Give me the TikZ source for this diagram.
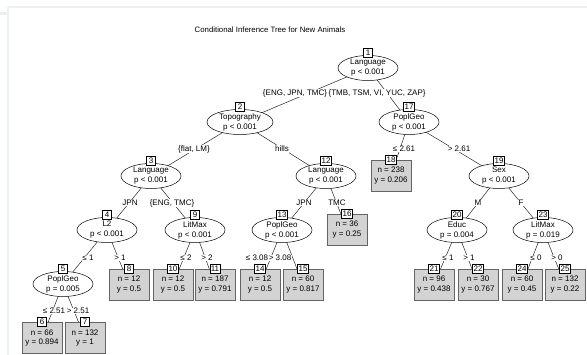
\documentclass[tikz,border=0pt]{standalone}
\usepackage{fontspec}
\setmainfont{Liberation Sans}
\usetikzlibrary{shapes.geometric,backgrounds}
\definecolor{framec}{RGB}{234,241,239}
\definecolor{termfill}{RGB}{211,211,211}
\definecolor{termline}{RGB}{100,100,100}
\begin{document}
\begin{tikzpicture}[x=1pt,y=-1pt,
  inner/.style={draw=black, line width=0.5pt, fill=white, ellipse, minimum width=60pt, minimum height=25pt, inner sep=0pt, align=center, font=\fontsize{8}{10}\selectfont},
  term/.style={draw=termline, line width=0.7pt, fill=termfill, minimum width=40pt, minimum height=31pt, inner sep=0pt, align=center, font=\fontsize{8}{9.5}\selectfont},
  idbox/.style={draw=black, line width=0.5pt, fill=white, inner sep=1pt, minimum height=9pt, minimum width=9pt, font=\fontsize{8}{8}\selectfont},
  elab/.style={fill=white, inner sep=0.6pt, font=\fontsize{8}{8}\selectfont},
  edge/.style={draw=black!85, line width=0.5pt}]
\useasboundingbox (0,0) rectangle (587,355);
% frame of the screenshot
\draw[framec, line width=1.5pt] (8,7) -- (587,7);
\draw[framec, line width=1.5pt] (8,7) -- (8,355);
\draw[framec, line width=2.5pt] (0,13.5) -- (8,13.5);
% title
\node[font=\fontsize{7.8}{8}\selectfont] (title) at (270,30) {Conditional Inference Tree for New Animals};
% inner nodes
\node[inner] (n1) at (368,68) {Language\\p < 0.001};
\node[inner, minimum width=66pt] (n2) at (240,122) {Topography\\p < 0.001};
\node[inner] (n17) at (409,122) {PoplGeo\\p < 0.001};
\node[inner] (n3) at (151,176) {Language\\p < 0.001};
\node[inner] (n12) at (326,176) {Language\\p < 0.001};
\node[inner] (n19) at (499,176) {Sex\\p < 0.001};
\node[inner] (n4) at (107,230) {L2\\p < 0.001};
\node[inner] (n9) at (195,230) {LitMax\\p < 0.001};
\node[inner] (n13) at (282,230) {PoplGeo\\p < 0.001};
\node[inner] (n20) at (457,230) {Educ\\p = 0.004};
\node[inner] (n23) at (543,230) {LitMax\\p = 0.019};
\node[inner] (n5) at (63,284) {PoplGeo\\p = 0.005};
% terminal nodes
\node[term] (n18) at (391,175.5) {n = 238\\y = 0.206};
\node[term] (n16) at (347,229.5) {n = 36\\y = 0.25};
\node[term] (n8) at (129,284.5) {n = 12\\y = 0.5};
\node[term] (n10) at (173,284.5) {n = 12\\y = 0.5};
\node[term] (n11) at (215,284.5) {n = 187\\y = 0.791};
\node[term] (n14) at (260,284.5) {n = 12\\y = 0.5};
\node[term] (n15) at (303,284.5) {n = 60\\y = 0.817};
\node[term] (n21) at (434,284.5) {n = 96\\y = 0.438};
\node[term] (n22) at (478,284.5) {n = 30\\y = 0.767};
\node[term] (n24) at (522,284.5) {n = 60\\y = 0.45};
\node[term] (n25) at (565,284.5) {n = 132\\y = 0.22};
\node[term] (n6) at (42,338) {n = 66\\y = 0.894};
\node[term] (n7) at (85,338) {n = 132\\y = 1};
% id boxes
\foreach \n in {1,2,17,3,12,19,4,9,13,20,23,5}{
  \node[idbox] (i\n) at ([yshift=15pt]n\n.center) {\n};
}
\foreach \n in {18,16,8,10,11,14,15,21,22,24,25,6,7}{
  \node[idbox] (i\n) at (n\n.north) {\n};
}
% edges
\begin{pgfonlayer}{background}
\foreach \a/\b in {1/2,1/17,2/3,2/12,17/18,17/19,3/4,3/9,12/13,12/16,19/20,19/23,4/5,4/8,9/10,9/11,13/14,13/15,20/21,20/22,23/24,23/25,5/6,5/7}{
  \draw[edge] (n\a.center) -- (n\b.center);
}
\end{pgfonlayer}
% edge labels
\node[elab] (l2) at (295,93) {\{ENG, JPN, TMC\}};
\node[elab, anchor=west] (l17) at (l2.east) {\{TMB, TSM, VI, YUC, ZAP\}};
\node[elab] (l3) at (194,149) {\{flat, LM\}};
\node[elab] (l12) at (282,149) {hills};
\node[elab] (l18) at (404,149) {≤ 2.61};
\node[elab] (l19) at (459,149) {> 2.61};
\node[elab] (l4) at (130,203) {JPN};
\node[elab] (l9) at (172,203) {\{ENG, TMC\}};
\node[elab] (l13) at (304,203) {JPN};
\node[elab] (l16) at (337,203) {TMC};
\node[elab] (l20) at (478,203) {M};
\node[elab] (l23) at (521,203) {F};
\node[elab] (l5) at (88,258) {≤ 1};
\node[elab] (l8) at (120,258) {> 1};
\node[elab] (l10) at (186,258) {≤ 2};
\node[elab] (l11) at (207,258) {> 2};
\node[elab] (l14) at (257,258) {≤ 3.08};
\node[elab] (l15) at (280,258) {> 3.08};
\node[elab] (l21) at (448,258) {≤ 1};
\node[elab] (l22) at (469,258) {> 1};
\node[elab] (l24) at (536,258) {≤ 0};
\node[elab] (l25) at (557,258) {> 0};
\node[elab] (l6) at (54,311) {≤ 2.51};
\node[elab] (l7) at (78,311) {> 2.51};
\end{tikzpicture}
\end{document}
